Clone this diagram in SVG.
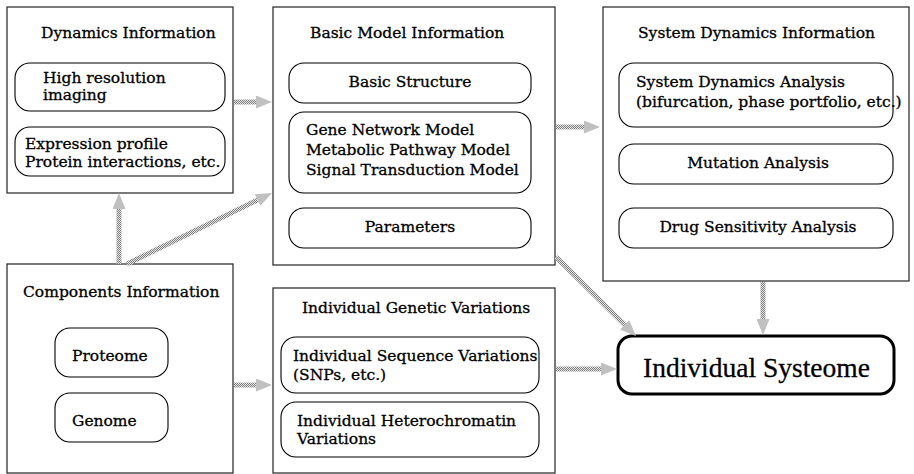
<svg xmlns="http://www.w3.org/2000/svg" width="914" height="474" viewBox="0 0 914 474">
<style>
.box{fill:#fff;stroke:#333;stroke-width:1.3}
.rbox{fill:#fff;stroke:#000;stroke-width:1.1}
.t{font-family:"DejaVu Serif","Liberation Serif",serif;font-size:15.5px;fill:#000;stroke:#000;stroke-width:0.3}
.big{font-family:"Liberation Serif",serif;font-size:27.5px;fill:#000;stroke:#000;stroke-width:0.3}
.sys{fill:#fff;stroke:#000;stroke-width:3}
.arrow{fill:none;stroke:url(#dither);stroke-width:5;marker-end:url(#head)}
</style>
<defs>
<pattern id="dither" width="2" height="2" patternUnits="userSpaceOnUse">
<rect width="2" height="2" fill="#e4e4e4"/>
<rect width="1" height="1" fill="#808080"/>
<rect x="1" y="1" width="1" height="1" fill="#808080"/>
</pattern>
<marker id="head" markerUnits="userSpaceOnUse" markerWidth="16" markerHeight="13" viewBox="0 0 16 13" refX="0" refY="6.5" orient="auto">
<path d="M0,0 L16,6.5 L0,13 z" fill="#c0c0c0"/>
</marker>
</defs>
<rect width="914" height="474" fill="#fff"/>

<g id="dynamics">
<rect class="box" x="7" y="7" width="226" height="186"/>
<text class="t" x="41" y="38">Dynamics Information</text>
<rect class="rbox" x="15" y="63" width="210" height="48" rx="15"/>
<text class="t" x="43" y="83">High resolution</text>
<text class="t" x="43" y="100">imaging</text>
<rect class="rbox" x="15" y="127" width="210" height="49" rx="15"/>
<text class="t" x="25" y="149">Expression profile</text>
<text class="t" x="25" y="167">Protein interactions, etc.</text>
</g>

<g id="basic-model">
<rect class="box" x="273" y="7" width="282" height="258"/>
<text class="t" x="310" y="38">Basic Model Information</text>
<rect class="rbox" x="289" y="63" width="242" height="40" rx="15"/>
<text class="t" x="410" y="87" text-anchor="middle">Basic Structure</text>
<rect class="rbox" x="289" y="112" width="242" height="81" rx="15"/>
<text class="t" x="306" y="135">Gene Network Model</text>
<text class="t" x="306" y="155">Metabolic Pathway Model</text>
<text class="t" x="306" y="175">Signal Transduction Model</text>
<rect class="rbox" x="289" y="208" width="242" height="40" rx="15"/>
<text class="t" x="410" y="232" text-anchor="middle">Parameters</text>
</g>

<g id="system-dynamics">
<rect class="box" x="603" y="7" width="306" height="274"/>
<text class="t" x="638" y="38">System Dynamics Information</text>
<rect class="rbox" x="619" y="63" width="274" height="64" rx="15"/>
<text class="t" x="636" y="87">System Dynamics Analysis</text>
<text class="t" x="636" y="107">(bifurcation, phase portfolio, etc.)</text>
<rect class="rbox" x="619" y="144" width="274" height="40" rx="15"/>
<text class="t" x="758" y="168" text-anchor="middle">Mutation Analysis</text>
<rect class="rbox" x="619" y="208" width="274" height="40" rx="15"/>
<text class="t" x="758" y="232" text-anchor="middle">Drug Sensitivity Analysis</text>
</g>

<g id="components">
<rect class="box" x="7" y="264" width="226" height="209"/>
<text class="t" x="23" y="297">Components Information</text>
<rect class="rbox" x="55" y="328" width="113" height="49" rx="15"/>
<text class="t" x="72" y="361">Proteome</text>
<rect class="rbox" x="55" y="393" width="113" height="49" rx="15"/>
<text class="t" x="72" y="426">Genome</text>
</g>

<g id="genetic-variations">
<rect class="box" x="273" y="288" width="282" height="185"/>
<text class="t" x="302" y="313">Individual Genetic Variations</text>
<rect class="rbox" x="281" y="337" width="258" height="56" rx="15"/>
<text class="t" x="293" y="361">Individual Sequence Variations</text>
<text class="t" x="293" y="380">(SNPs, etc.)</text>
<rect class="rbox" x="281" y="402" width="258" height="55" rx="15"/>
<text class="t" x="297" y="426">Individual Heterochromatin</text>
<text class="t" x="297" y="444">Variations</text>
</g>

<g id="systeome">
<rect class="sys" x="618" y="336" width="276" height="58" rx="14"/>
<text class="big" x="643" y="377">Individual Systeome</text>
</g>

<g id="connectors">
<path class="arrow" d="M234,102 H256"/>
<path class="arrow" d="M119,264 V209"/>
<path class="arrow" d="M127,264 L257.6,200"/>
<path class="arrow" d="M556,127 H584"/>
<path class="arrow" d="M556,257 L624.6,324.8"/>
<path class="arrow" d="M763,282 V319"/>
<path class="arrow" d="M234,385 H256"/>
<path class="arrow" d="M556,369 H601"/>
</g>
</svg>
